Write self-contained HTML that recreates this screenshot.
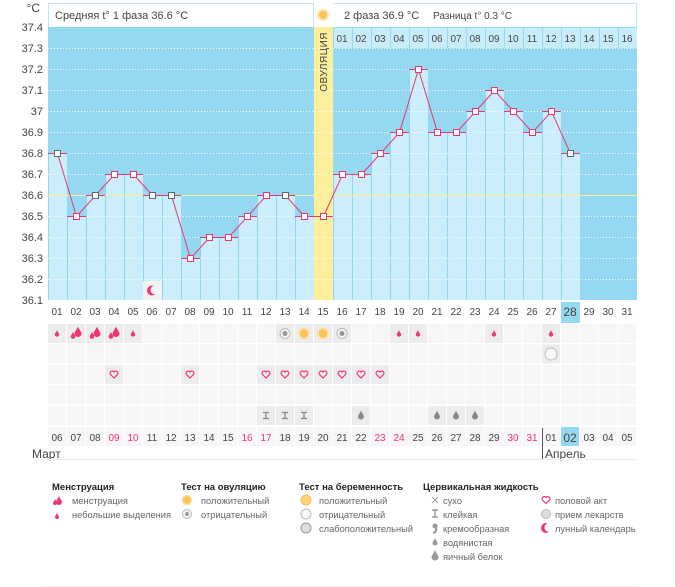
<!DOCTYPE html>
<html><head><meta charset="utf-8"><style>
body{margin:0;background:#fff;}
svg{display:block;font-family:"Liberation Sans",sans-serif;}
.t{font-size:11px;fill:#444;}
.c{text-anchor:middle;}
.r{fill:#f0366e;}
.h{font-size:9.5px;font-weight:bold;fill:#222;}
.l{font-size:9.3px;fill:#666;}
</style></head><body>
<svg id="s" width="675" height="587" xmlns="http://www.w3.org/2000/svg">
<g id="bg"></g>
<text class="t" x="40" y="12" text-anchor="end" style="font-size:12px">°C</text>
<g class="t" text-anchor="end">
<text x="43" y="31">37.4</text><text x="43" y="52">37.3</text><text x="43" y="73">37.2</text><text x="43" y="94">37.1</text><text x="43" y="115">37</text><text x="43" y="136">36.9</text><text x="43" y="157">36.8</text><text x="43" y="178">36.7</text><text x="43" y="199">36.6</text><text x="43" y="220">36.5</text><text x="43" y="241">36.4</text><text x="43" y="262">36.3</text><text x="43" y="283">36.2</text><text x="43" y="304">36.1</text>
</g>
<text class="t" x="55" y="19">Средняя t° 1 фаза 36.6 °C</text>
<text class="t" x="344" y="19">2 фаза 36.9 °C</text>
<text class="t" x="433" y="19" style="font-size:10px">Разница t° 0.3 °C</text>
<text class="t" transform="translate(327,32) rotate(-90)" text-anchor="end" style="font-size:10px;letter-spacing:0.5px">ОВУЛЯЦИЯ</text>
<g class="t c" style="font-size:10px">
<text x="342" y="42">01</text><text x="361" y="42">02</text><text x="380" y="42">03</text><text x="399" y="42">04</text><text x="418" y="42">05</text><text x="437" y="42">06</text><text x="456" y="42">07</text><text x="475" y="42">08</text><text x="494" y="42">09</text><text x="513" y="42">10</text><text x="532" y="42">11</text><text x="551" y="42">12</text><text x="570" y="42">13</text><text x="589" y="42">14</text><text x="608" y="42">15</text><text x="627" y="42">16</text>
</g>
<g class="t c" style="font-size:10px">
<text x="57" y="315">01</text><text x="76" y="315">02</text><text x="95" y="315">03</text><text x="114" y="315">04</text><text x="133" y="315">05</text><text x="152" y="315">06</text><text x="171" y="315">07</text><text x="190" y="315">08</text><text x="209" y="315">09</text><text x="228" y="315">10</text><text x="247" y="315">11</text><text x="266" y="315">12</text><text x="285" y="315">13</text><text x="304" y="315">14</text><text x="323" y="315">15</text><text x="342" y="315">16</text><text x="361" y="315">17</text><text x="380" y="315">18</text><text x="399" y="315">19</text><text x="418" y="315">20</text><text x="437" y="315">21</text><text x="456" y="315">22</text><text x="475" y="315">23</text><text x="494" y="315">24</text><text x="513" y="315">25</text><text x="532" y="315">26</text><text x="551" y="315">27</text><text x="570" y="316" style="font-size:12px">28</text><text x="589" y="315">29</text><text x="608" y="315">30</text><text x="627" y="315">31</text>
</g>
<g class="t c" style="font-size:10px">
<text x="57" y="441">06</text><text x="76" y="441">07</text><text x="95" y="441">08</text><text class="r" x="114" y="441">09</text><text class="r" x="133" y="441">10</text><text x="152" y="441">11</text><text x="171" y="441">12</text><text x="190" y="441">13</text><text x="209" y="441">14</text><text x="228" y="441">15</text><text class="r" x="247" y="441">16</text><text class="r" x="266" y="441">17</text><text x="285" y="441">18</text><text x="304" y="441">19</text><text x="323" y="441">20</text><text x="342" y="441">21</text><text x="361" y="441">22</text><text class="r" x="380" y="441">23</text><text class="r" x="399" y="441">24</text><text x="418" y="441">25</text><text x="437" y="441">26</text><text x="456" y="441">27</text><text x="475" y="441">28</text><text x="494" y="441">29</text><text class="r" x="513" y="441">30</text><text class="r" x="532" y="441">31</text><text x="551" y="441">01</text><text x="570" y="442" style="font-size:12px">02</text><text x="589" y="441">03</text><text x="608" y="441">04</text><text x="627" y="441">05</text>
</g>
<text class="t" x="32" y="458" style="font-size:12px">Март</text>
<text class="t" x="545" y="458" style="font-size:12px">Апрель</text>
<text class="h" x="52" y="490">Менструация</text>
<text class="h" x="181" y="490">Тест на овуляцию</text>
<text class="h" x="299" y="490">Тест на беременность</text>
<text class="h" x="423" y="490">Цервикальная жидкость</text>
<g class="l">
<text x="72" y="504">менструация</text><text x="72" y="518">небольшие выделения</text>
<text x="201" y="504">положительный</text><text x="201" y="518">отрицательный</text>
<text x="319" y="504">положительный</text><text x="319" y="518">отрицательный</text><text x="319" y="532">слабоположительный</text>
<text x="443" y="504">сухо</text><text x="443" y="518">клейкая</text><text x="443" y="532">кремообразная</text><text x="443" y="546">водянистая</text><text x="443" y="560">яичный белок</text>
<text x="555" y="504">половой акт</text><text x="555" y="518">прием лекарств</text><text x="555" y="532">лунный календарь</text>
</g>
<g id="fg"></g>
</svg>
<script>
var NS="http://www.w3.org/2000/svg";
function el(p,t,a){var e=document.createElementNS(NS,t);for(var k in a)e.setAttribute(k,a[k]);document.getElementById(p).appendChild(e);return e;}
var B='bg',F='fg';
el(B,'rect',{x:48.5,y:3.5,width:265,height:24,fill:'#fff',stroke:'#bfe6f5'});
el(B,'rect',{x:332.5,y:3.5,width:304,height:24,fill:'#fff',stroke:'#bfe6f5'});
el(B,'rect',{x:314,y:3,width:19,height:24,fill:'#fff'});
el(B,'circle',{cx:323,cy:15,r:5,fill:'#fbc35a',stroke:'#fde7a8','stroke-width':2});
el(B,'rect',{x:48,y:27,width:589,height:273,fill:'#94d8f2'});
el(B,'rect',{x:314,y:27,width:19,height:273,fill:'#fdee9c'});
for(var i=16;i<=31;i++){var x=48+19*(i-1);el(B,'rect',{x:x+1,y:28,width:18,height:20,fill:'#c9ecfb'});}
var T=[36.8,36.5,36.6,36.7,36.7,36.6,36.6,36.3,36.4,36.4,36.5,36.6,36.6,36.5,36.5,36.7,36.7,36.8,36.9,37.2,36.9,36.9,37.0,37.1,37.0,36.9,37.0,36.8];
function Y(t){return 27+(37.4-t)*210;}
for(var d=1;d<=28;d++){if(d==15)continue;var x=48+19*(d-1),y=Y(T[d-1]);
 el(B,'rect',{x:x,y:y,width:19,height:300-y,fill:'#ccedfb'});
 el(B,'line',{x1:x+0.5,y1:y,x2:x+0.5,y2:300,stroke:'#8fd4f0'});}
el(B,'line',{x1:333.5,y1:195,x2:333.5,y2:300,stroke:'#8fd4f0'});
for(var k=1;k<=12;k++){var y=27+21*k+0.5;el(B,'line',{x1:48,y1:y,x2:637,y2:y,stroke:'#fff','stroke-dasharray':'1,2','stroke-opacity':0.9});}
el(B,'line',{x1:48,y1:195.5,x2:637,y2:195.5,stroke:'#f8f0a0','stroke-width':1});
el(B,'rect',{x:143,y:281,width:19,height:19,fill:'#f2f2f2'});
el(B,'circle',{cx:152,cy:290.5,r:5,fill:'#f0366e'});el(B,'circle',{cx:155,cy:290,r:4.5,fill:'#f2f2f2'});
var pts=[];for(var d=1;d<=28;d++){var x=48+19*(d-1),y=Y(T[d-1])+0.5;pts.push((x+9.5)+','+y);
 el(F,'line',{x1:x,y1:y,x2:x+19,y2:y,stroke:'#e8386e'});}
el(F,'polyline',{points:pts.join(' '),fill:'none',stroke:'#e8386e'});
var gray={1:1,3:1,6:1,7:1,13:1,28:1};
for(var d=1;d<=28;d++){var x=48+19*(d-1)+9.5,y=Y(T[d-1])+0.5;
 el(F,'rect',{x:x-3,y:y-3,width:6,height:6,fill:'#fff',stroke:gray[d]?'#666':'#e8386e'});}
el(B,'rect',{x:561,y:302,width:19,height:21,fill:'#94d8f2'});
var ry=[324,344.5,365,385.5,406,427];
var icons={};
function set(r,d,v){icons[r+'_'+d]=v;}
[1,5,19,20,24,27].forEach(function(d){set(0,d,'sd');});[2,3,4].forEach(function(d){set(0,d,'bd');});
set(0,13,'gc');set(0,16,'gc');set(0,14,'oc');set(0,15,'oc');set(1,27,'pt');
[4,8,12,13,14,15,16,17,18].forEach(function(d){set(2,d,'hr');});
[12,13,14].forEach(function(d){set(4,d,'st');});[17,21,22,23].forEach(function(d){set(4,d,'wd');});
for(var r=0;r<6;r++)for(var d=1;d<=31;d++){var x=48+19*(d-1),y=ry[r],ic=icons[r+'_'+d];
 var f=ic?'#ececec':'#f7f5f7';if(r==5&&d==28)f='#94d8f2';
 el(B,'rect',{x:x,y:y,width:18,height:19,fill:f});
 var cx=x+9,cy=y+9.5;
 if(ic=='sd')drop(cx,cy+1,2.2,'#f0366e');
 if(ic=='bd'){drop(cx+2,cy,3.5,'#f0366e');drop(cx-3,cy+3,2.3,'#f0366e');}
 if(ic=='gc'){el(F,'circle',{cx:cx,cy:cy,r:5,fill:'#f4f4f4',stroke:'#bbb'});el(F,'circle',{cx:cx,cy:cy,r:2.5,fill:'#999'});}
 if(ic=='oc'){el(F,'circle',{cx:cx,cy:cy,r:5,fill:'#fbc35a',stroke:'#fde0a0','stroke-width':1.5});}
 if(ic=='pt'){el(F,'circle',{cx:cx,cy:cy,r:6,fill:'#f8f8f8',stroke:'#bbb'});}
 if(ic=='hr')heart(cx,cy);
 if(ic=='st'){el(F,'path',{d:'M'+(cx-3)+' '+(cy-3)+'h6M'+(cx-3)+' '+(cy+3)+'h6M'+cx+' '+(cy-3)+'v6',stroke:'#888','stroke-width':1.3});}
 if(ic=='wd')drop(cx,cy+1,3,'#888');
}
function drop(x,y,r,c){el(F,'path',{d:'M'+x+' '+(y-r*2)+'C'+(x+r*0.4)+' '+(y-r)+' '+(x+r)+' '+(y-r*0.4)+' '+(x+r)+' '+y+'A'+r+' '+r+' 0 0 1 '+(x-r)+' '+y+'C'+(x-r)+' '+(y-r*0.4)+' '+(x-r*0.4)+' '+(y-r)+' '+x+' '+(y-r*2)+'Z',fill:c});}
function heart(x,y){el(F,'path',{d:'M'+x+' '+(y+3.5)+'L'+(x-3.5)+' '+y+'A1.8 1.8 0 0 1 '+x+' '+(y-2.5)+'A1.8 1.8 0 0 1 '+(x+3.5)+' '+y+'Z',fill:'none',stroke:'#f0366e','stroke-width':1.2});}
el(F,'line',{x1:542.5,y1:428,x2:542.5,y2:460,stroke:'#555'});
el(F,'line',{x1:45,y1:459.5,x2:637,y2:459.5,stroke:'#eee'});
el(F,'line',{x1:45,y1:586.5,x2:637,y2:586.5,stroke:'#eee'});
drop(59,502,3,'#f0366e');drop(55,503,2,'#f0366e');drop(57,517,2,'#f0366e');
el(F,'circle',{cx:187,cy:500,r:4.5,fill:'#fbc35a',stroke:'#fde0a0','stroke-width':1.5});
el(F,'circle',{cx:187,cy:514,r:4.5,fill:'#f4f4f4',stroke:'#bbb'});el(F,'circle',{cx:187,cy:514,r:2,fill:'#999'});
el(F,'circle',{cx:306,cy:500,r:5,fill:'#fbd57a',stroke:'#f5c050'});
el(F,'circle',{cx:306,cy:514,r:5,fill:'#f8f8f8',stroke:'#bbb'});
el(F,'circle',{cx:306,cy:528,r:5,fill:'#ddd',stroke:'#999'});
el(F,'path',{d:'M432 497l6 6M438 497l-6 6',stroke:'#999'});
el(F,'path',{d:'M432 510h6M432 517h6M435 510v7',stroke:'#888','stroke-width':1.2});
el(F,'circle',{cx:435,cy:526,r:2.5,fill:'#999'});el(F,'path',{d:'M436 528q1 4 -3 5',stroke:'#999','stroke-width':2,fill:'none'});
drop(435,543,2.5,'#999');drop(435,557,3.5,'#999');
heart(546,500);
el(F,'circle',{cx:546,cy:514,r:4.5,fill:'#ddd',stroke:'#bbb'});
el(F,'circle',{cx:546,cy:528,r:5,fill:'#f0366e'});el(F,'circle',{cx:549,cy:527.5,r:4.5,fill:'#fff'});
</script>
</body></html>
